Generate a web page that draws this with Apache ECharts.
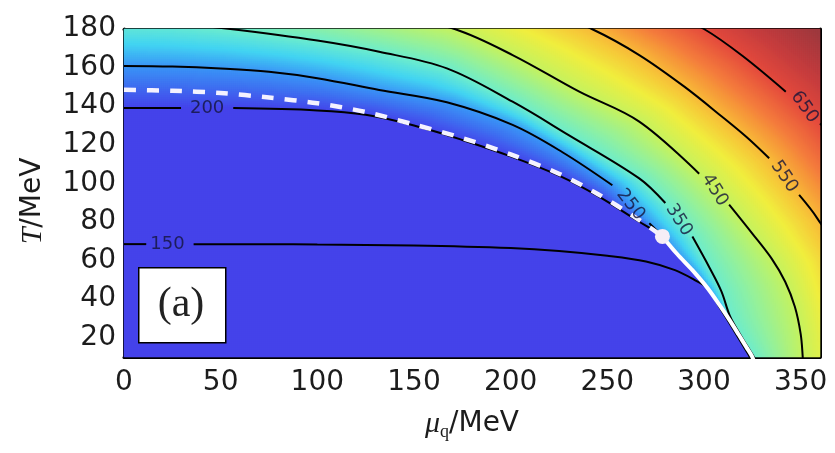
<!DOCTYPE html>
<html>
<head>
<meta charset="utf-8">
<script src="https://cdn.jsdelivr.net/npm/echarts@6/dist/echarts.min.js"></script>
<style>
  html, body { margin: 0; padding: 0; background: #ffffff; }
  #chart { width: 835px; height: 453px; }
</style>
</head>
<body>
<div id="chart"></div>
<script>
// ---- axis ranges and tick labels (μ_q and T in MeV) ----
const muRange = [0, 360];
const tRange = [10, 180];
const muTicks = [0, 50, 100, 150, 200, 250, 300, 350];
const tTicks = [20, 40, 60, 80, 100, 120, 140, 160, 180];

// ---- phase boundary ----
const crossover = [[0, 148.5], [25, 148], [50, 146.8], [75, 144.5], [100, 141.5], [125, 137],
  [150, 130.5], [175, 123.5], [200, 115], [225, 105], [245, 94.5], [265, 82], [278.5, 72.5]];
const firstOrder = [[278.5, 72.5], [286, 63.5], [294, 55], [302, 45.5], [308, 37], [313, 29.5],
  [318, 21.5], [322, 15], [325, 10], [326.5, 5], [327.5, 0]];
const criticalPoint = [278.5, 72.5];

// ---- contour lines [μ, T]; null leaves room for the inline label ----
const contourLevels = [150, 200, 250, 350, 450, 550, 650];
const contour150 = [[0, 68.5], [11.5, 68.5], null, [36, 68.5], [75, 68.5], [100, 68.3], [150, 67.8],
  [200, 66.5], [225, 65], [250, 62.5], [270, 59.5], [285, 55], [295, 50], [302, 45.5],
  [307.3, 37], [312, 29.5], [316.8, 21.5], [320.7, 15], [323.7, 10], [325.2, 5], [326.2, 0]];
const contour200 = [[0, 139], [29.5, 139], null, [56.5, 139], [100, 137.8], [125, 135.5], [150, 130],
  [175, 122.5], [200, 114], [225, 104], [245, 93.5], [265, 81], [278.5, 72.5],
  [286, 63.5], [294, 55], [302, 45.5], [308, 37], [313, 29.5], [318, 21.5], [322, 15], [325, 10],
  [326.5, 5], [327.5, 0]];
const contour250 = [[0, 160.8], [25, 160.5], [50, 159.5], [75, 157.8], [100, 154.5], [132, 148.4],
  [167, 142], [201, 130.3], [227, 116], [252.6, 99], null, [271.7, 79.3], [278.5, 72.5],
  [286, 63.5], [294, 55], [302, 45.5], [308, 37], [313, 29.5], [318, 21.5], [322, 15], [325, 10],
  [326.5, 5], [327.5, 0]];
const contour350 = [[0, 184], [25, 183], [55, 180], [100, 174], [132, 168.2], [167, 159.6], [201, 142.3],
  [230, 125], [266.5, 102.6], [280, 89.8], null, [294, 72.4], [303, 56], [309, 44], [313.5, 31],
  [318.8, 21.5], [322.8, 15], [325.8, 10], [327.4, 5], [328.4, 0]];
const contour450 = [[0, 203], [100, 194.5], [140, 186.5], [171, 180], [201, 166.5], [235.5, 147.5],
  [266.5, 132], [297.5, 105], null, [313, 89], [325, 74], [335, 61], [342, 49], [347, 36],
  [350, 22], [351, 11], [351.5, 0]];
const contour550 = [[0, 232], [100, 224], [200, 198], [242, 180], [266.5, 166.5], [290, 150], [310, 134],
  [322, 124], [333.7, 113], null, [349.2, 94], [358.5, 82], [370, 62], [382, 0]];
const contour650 = [[0, 259], [150, 241.6], [250, 207], [300, 180], [320, 166], [342.3, 147.5], null,
  [360, 131], [390, 92], [417, 0]];
const contours = [contour150, contour200, contour250, contour350, contour450, contour550, contour650];

// inline contour labels [μ, T]
const labelLevels = [150, 200, 250, 350, 450, 550, 650];
const labelMu = [22.5, 43, 262, 287, 305.5, 341.5, 352];
const labelT = [68.5, 139, 89, 81, 96.5, 103.5, 139.5];

// ---- colour scale (value -> rgb) ----
const colorStops = [
  [100, [68, 67, 234]], [200, [68, 67, 234]], [250, [58, 148, 246]], [300, [66, 212, 242]],
  [350, [108, 236, 205]], [400, [152, 241, 150]], [450, [196, 242, 96]], [500, [240, 238, 62]],
  [550, [248, 186, 56]], [600, [244, 124, 60]], [650, [228, 74, 60]], [700, [196, 60, 62]],
  [760, [158, 56, 62]]
];
const labelAngles = { 150: 0, 200: 0, 250: -52, 350: -58, 450: -58, 550: -56, 650: -55 };

function colorAt(v) {
  if (v <= colorStops[0][0]) return colorStops[0][1];
  for (let i = 0; i < colorStops.length - 1; i++) {
    const a = colorStops[i], b = colorStops[i + 1];
    if (v <= b[0]) {
      const f = (v - a[0]) / (b[0] - a[0]);
      return a[1].map((c, k) => Math.round(c + f * (b[1][k] - c)));
    }
  }
  return colorStops[colorStops.length - 1][1];
}
const vMin = 100, vMax = 760;
const palette = [];
for (let v = vMin; v <= vMax; v += 5) {
  const c = colorAt(v);
  palette.push('rgb(' + c.join(',') + ')');
}

// ---- field table for the heatmap, built from the contour lines ----
// each contour is monotone in the (μ, T) quadrant, so a ray from the origin
// crosses it once; the value along the ray follows the crossing radii.
const norm = p => [p[0] / muRange[1], p[1] / tRange[1]];
const curves = contours.map(c => c.filter(p => p !== null).map(norm));

function rayRadius(curve, dx, dy) {
  for (let i = 0; i < curve.length - 1; i++) {
    const a = curve[i], b = curve[i + 1];
    const ca = dx * a[1] - dy * a[0];
    const cb = dx * b[1] - dy * b[0];
    if ((ca >= 0 && cb <= 0) || (ca <= 0 && cb >= 0)) {
      const s = ca === cb ? 0 : ca / (ca - cb);
      const px = a[0] + s * (b[0] - a[0]);
      const py = a[1] + s * (b[1] - a[1]);
      const r = px * dx + py * dy;
      if (r > 0) return r;
    }
  }
  return Infinity;
}

function fieldValue(mu, T) {
  const p = norm([mu, T]);
  const r = Math.hypot(p[0], p[1]);
  const dx = p[0] / r, dy = p[1] / r;
  const radii = curves.map(c => rayRadius(c, dx, dy));
  const n = contourLevels.length;
  if (r <= radii[0]) return 140;
  let k = 0;
  for (let i = 0; i < n; i++) if (radii[i] <= r) k = i;
  if (k === n - 1) {
    const step = radii[n - 1] - radii[n - 2];
    return contourLevels[n - 1] + (r - radii[n - 1]) / step * (contourLevels[n - 1] - contourLevels[n - 2]);
  }
  const gap = radii[k + 1] - radii[k];
  if (gap < 1e-9) return contourLevels[k + 1];
  return contourLevels[k] + (r - radii[k]) / gap * (contourLevels[k + 1] - contourLevels[k]);
}

// 348 x 164 cells -> 2 px per cell on the 696 x 328 plot area
const NX = 348, NY = 164;
const dMu = (muRange[1] - muRange[0]) / NX;
const dT = (tRange[1] - tRange[0]) / NY;
const xCats = [], yCats = [], cells = [];
for (let i = 0; i < NX; i++) xCats.push((muRange[0] + (i + 0.5) * dMu).toFixed(3));
for (let j = 0; j < NY; j++) yCats.push((tRange[0] + (j + 0.5) * dT).toFixed(3));
for (let i = 0; i < NX; i++) {
  for (let j = 0; j < NY; j++) {
    cells.push([i, j, fieldValue(+xCats[i], +yCats[j])]);
  }
}

// ---- chart ----
function pieces(arr) {
  const out = [[]];
  arr.forEach(p => { if (p === null) out.push([]); else out[out.length - 1].push(p); });
  return out.filter(a => a.length > 1);
}

const lineBase = {
  type: 'line', xAxisIndex: 1, yAxisIndex: 1, symbol: 'none', silent: true,
  clip: true, animation: false
};
const series = [{
  type: 'heatmap', xAxisIndex: 0, yAxisIndex: 0, data: cells, progressive: 0,
  silent: true, animation: false, z: 1, emphasis: { disabled: true },
  itemStyle: { borderWidth: 0, borderColor: 'rgba(0,0,0,0)' }
}];
contours.forEach(c => {
  pieces(c).forEach(piece => {
    series.push(Object.assign({}, lineBase, {
      data: piece, smooth: 0.35, z: 3,
      lineStyle: { color: '#000000', width: 2 }
    }));
  });
});
series.push(Object.assign({}, lineBase, {
  data: firstOrder, smooth: 0.3, z: 4,
  lineStyle: { color: '#ffffff', width: 4 }
}));
series.push(Object.assign({}, lineBase, {
  data: crossover, smooth: 0.3, z: 4,
  lineStyle: { color: '#f4f2ff', width: 4.5, type: [12, 11], cap: 'butt' }
}));
series.push({
  type: 'scatter', xAxisIndex: 1, yAxisIndex: 1, silent: true, animation: false, z: 5,
  symbol: 'circle', symbolSize: 15, data: [criticalPoint],
  itemStyle: { color: '#f6eef6', opacity: 1 }
});
series.push({
  type: 'scatter', xAxisIndex: 1, yAxisIndex: 1, silent: true, animation: false, z: 6,
  symbol: 'circle', symbolSize: 1, itemStyle: { color: 'rgba(0,0,0,0)' },
  data: labelLevels.map((lv, i) => ({
    value: [labelMu[i], labelT[i], lv],
    label: { rotate: labelAngles[lv] }
  })),
  label: {
    show: true, position: 'inside', formatter: p => String(p.value[2]),
    fontSize: 18, color: '#14143a', fontFamily: 'DejaVu Sans'
  }
});

const frame = { show: true, onZero: false, lineStyle: { color: '#000000', width: 3 } };
const tickStyle = { color: '#000000', width: 3 };
const chart = echarts.init(document.getElementById('chart'), null, { renderer: 'canvas' });
chart.setOption({
  animation: false,
  backgroundColor: '#ffffff',
  grid: { left: 124, right: 15, top: 29, bottom: 96 },
  visualMap: {
    show: false, type: 'continuous', min: vMin, max: vMax, dimension: 2, seriesIndex: 0,
    inRange: { color: palette }
  },
  xAxis: [
    { type: 'category', data: xCats, show: false },
    {
      type: 'value', min: muRange[0], max: muRange[1], position: 'bottom',
      axisLine: frame, splitLine: { show: false },
      axisTick: { inside: true, length: 10, lineStyle: tickStyle, customValues: muTicks },
      axisLabel: { customValues: muTicks, fontSize: 28, color: '#1c1c1c', fontFamily: 'DejaVu Sans', margin: 12 },
      name: '{mu|μ}{sub|q}/MeV', nameLocation: 'middle', nameGap: 50,
      nameTextStyle: {
        fontSize: 28, color: '#1c1c1c', fontFamily: 'DejaVu Sans',
        rich: {
          mu: { fontSize: 30, fontFamily: 'Liberation Serif', fontStyle: 'italic', color: '#1c1c1c' },
          sub: { fontSize: 18, fontFamily: 'Liberation Serif', color: '#1c1c1c', padding: [16, 0, 0, 0], verticalAlign: 'bottom' }
        }
      }
    },
    {
      type: 'value', min: muRange[0], max: muRange[1], position: 'top',
      axisLine: frame, splitLine: { show: false }, axisLabel: { show: false },
      axisTick: { inside: true, length: 10, lineStyle: tickStyle, customValues: muTicks }
    }
  ],
  yAxis: [
    { type: 'category', data: yCats, show: false },
    {
      type: 'value', min: tRange[0], max: tRange[1], position: 'left',
      axisLine: frame, splitLine: { show: false },
      axisTick: { inside: true, length: 10, lineStyle: tickStyle, customValues: tTicks },
      axisLabel: { customValues: tTicks, fontSize: 28, color: '#1c1c1c', fontFamily: 'DejaVu Sans', margin: 8 },
      name: '{it|T}/MeV', nameLocation: 'middle', nameGap: 76,
      nameTextStyle: {
        fontSize: 28, color: '#1c1c1c', fontFamily: 'DejaVu Sans', padding: [0, 16, 0, 0],
        rich: { it: { fontSize: 30, fontFamily: 'Liberation Serif', fontStyle: 'italic', color: '#1c1c1c' } }
      }
    },
    {
      type: 'value', min: tRange[0], max: tRange[1], position: 'right',
      axisLine: frame, splitLine: { show: false }, axisLabel: { show: false },
      axisTick: { inside: true, length: 10, lineStyle: tickStyle, customValues: tTicks }
    }
  ],
  graphic: [
    {
      type: 'rect', left: 138, top: 267, z: 20,
      shape: { width: 87, height: 75 },
      style: { fill: '#ffffff', stroke: '#000000', lineWidth: 1.5 }
    },
    {
      type: 'text', x: 181, y: 305, z: 21,
      style: {
        text: '(a)', font: '42px "Liberation Serif"', fill: '#222222',
        align: 'center', verticalAlign: 'middle'
      }
    }
  ],
  series: series
});
</script>
</body>
</html>
